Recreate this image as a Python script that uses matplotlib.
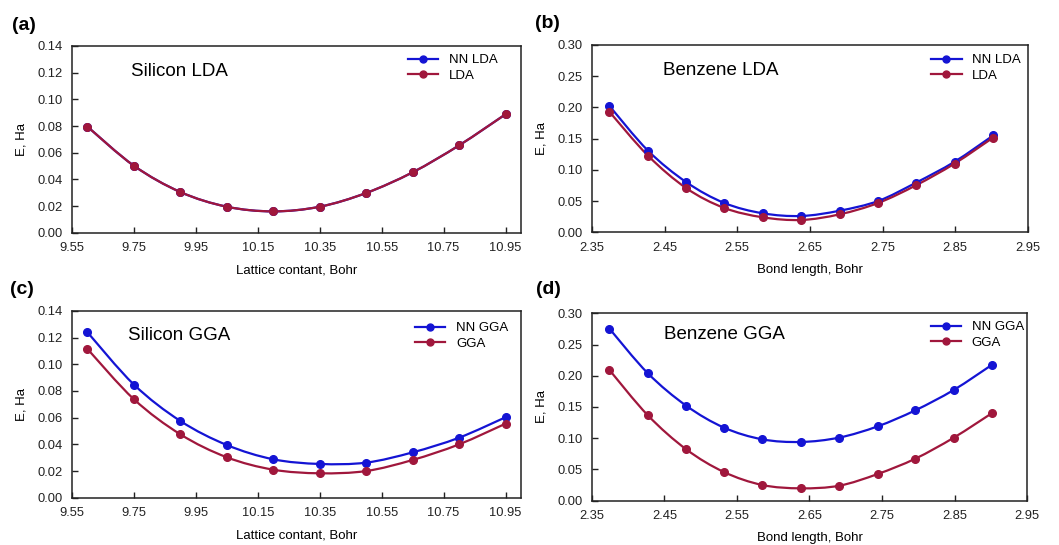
import matplotlib
matplotlib.use('Agg')
import matplotlib.pyplot as plt
from matplotlib.path import Path
from matplotlib.patches import PathPatch
from matplotlib.lines import Line2D

plt.rcParams['font.family'] = ['Liberation Sans', 'DejaVu Sans']

BLUE = '#1414d4'
RED = '#a0173c'

# silicon lattice constant, Bohr
si_x = [9.60, 9.75, 9.90, 10.05, 10.20, 10.35, 10.50, 10.65, 10.80, 10.95]
si_nn_lda = [0.0795, 0.0502, 0.0305, 0.0195, 0.0160, 0.0195, 0.0298, 0.0453, 0.0655, 0.0888]
si_lda = [0.0795, 0.0502, 0.0305, 0.0195, 0.0160, 0.0195, 0.0298, 0.0453, 0.0655, 0.0888]
si_nn_gga = [0.1240, 0.0848, 0.0575, 0.0395, 0.0288, 0.0253, 0.0263, 0.0340, 0.0450, 0.0603]
si_gga = [0.1115, 0.0738, 0.0475, 0.0303, 0.0210, 0.0183, 0.0200, 0.0283, 0.0400, 0.0555]

# benzene bond length, Bohr
bz_x = [2.374, 2.427, 2.480, 2.532, 2.585, 2.638, 2.691, 2.744, 2.796, 2.849, 2.902]
bz_nn_lda = [0.2024, 0.1308, 0.0801, 0.0470, 0.0304, 0.0261, 0.0346, 0.0502, 0.0795, 0.1130, 0.1550]
bz_lda = [0.1930, 0.1228, 0.0705, 0.0390, 0.0240, 0.0197, 0.0288, 0.0470, 0.0753, 0.1100, 0.1516]
bz_nn_gga = [0.2755, 0.2040, 0.1520, 0.1170, 0.0982, 0.0940, 0.1010, 0.1190, 0.1447, 0.1773, 0.2178]
bz_gga = [0.2093, 0.1367, 0.0822, 0.0459, 0.0251, 0.0198, 0.0240, 0.0427, 0.0673, 0.1009, 0.1404]

si_xticks = [9.55, 9.75, 9.95, 10.15, 10.35, 10.55, 10.75, 10.95]
bz_xticks = [2.35, 2.45, 2.55, 2.65, 2.75, 2.85, 2.95]
si_yticks = [0.00, 0.02, 0.04, 0.06, 0.08, 0.10, 0.12, 0.14]
bz_yticks = [0.00, 0.05, 0.10, 0.15, 0.20, 0.25, 0.30]


def smooth_line(ax, x, y, color):
    # excel-style smoothed line (catmull-rom as cubic bezier)
    pts = list(zip(x, y))
    verts = [pts[0]]
    codes = [Path.MOVETO]
    n = len(pts)
    for i in range(n - 1):
        p0 = pts[i - 1] if i > 0 else pts[i]
        p1 = pts[i]
        p2 = pts[i + 1]
        p3 = pts[i + 2] if i + 2 < n else pts[i + 1]
        c1 = (p1[0] + (p2[0] - p0[0]) / 6, p1[1] + (p2[1] - p0[1]) / 6)
        c2 = (p2[0] - (p3[0] - p1[0]) / 6, p2[1] - (p3[1] - p1[1]) / 6)
        verts += [c1, c2, p2]
        codes += [Path.CURVE4] * 3
    ax.add_patch(PathPatch(Path(verts, codes), facecolor='none', edgecolor=color, lw=1.6, zorder=2))
    ax.plot(x, y, 'o', color=color, ms=5.5, zorder=3)


fig = plt.figure(figsize=(10.59, 5.45), dpi=100)

panels = [
    ([0.0680, 0.5730, 0.4240, 0.3426], si_x, si_nn_lda, si_lda, 'NN LDA', 'LDA', 'Silicon LDA',
     si_xticks, (9.55, 11.0), si_yticks, (0, 0.14), 'Lattice contant, Bohr', (0.748, 0.957), (0.131, 0.861)),
    ([0.5590, 0.5738, 0.4117, 0.3437], bz_x, bz_nn_lda, bz_lda, 'NN LDA', 'LDA', 'Benzene LDA',
     bz_xticks, (2.35, 2.95), bz_yticks, (0, 0.30), 'Bond length, Bohr', (0.778, 0.952), (0.162, 0.863)),
    ([0.0680, 0.0868, 0.4240, 0.3426], si_x, si_nn_gga, si_gga, 'NN GGA', 'GGA', 'Silicon GGA',
     si_xticks, (9.55, 11.0), si_yticks, (0, 0.14), 'Lattice contant, Bohr', (0.764, 0.941), (0.125, 0.871)),
    ([0.5590, 0.0813, 0.4108, 0.3439], bz_x, bz_nn_gga, bz_gga, 'NN GGA', 'GGA', 'Benzene GGA',
     bz_xticks, (2.35, 2.95), bz_yticks, (0, 0.30), 'Bond length, Bohr', (0.779, 0.959), (0.166, 0.889)),
]

for rect, x, y_nn, y_ref, lab_nn, lab_ref, title, xt, xl, yt, yl, xlabel, leg_at, txt_at in panels:
    ax = fig.add_axes(rect)
    smooth_line(ax, x, y_nn, BLUE)
    smooth_line(ax, x, y_ref, RED)
    ax.set_xlim(*xl)
    ax.set_ylim(*yl)
    ax.set_xticks(xt)
    ax.set_xticklabels(['%.2f' % v for v in xt])
    ax.set_yticks(yt)
    ax.set_yticklabels(['%.2f' % v for v in yt])
    ax.tick_params(direction='in', length=4, width=1, labelsize=9.3, pad=7, colors='#222222')
    for s in ax.spines.values():
        s.set_linewidth(1.1)
        s.set_color('#222222')
    ax.set_xlabel(xlabel, fontsize=9.5, labelpad=7)
    ax.set_ylabel('E, Ha', fontsize=9.5, labelpad=7)
    ax.text(txt_at[0], txt_at[1], title, transform=ax.transAxes, fontsize=13.5, va='center', ha='left')
    handles = [Line2D([], [], color=BLUE, marker='o', ms=5, lw=1.6),
               Line2D([], [], color=RED, marker='o', ms=5, lw=1.6)]
    ax.legend(handles, [lab_nn, lab_ref], loc='upper left', bbox_to_anchor=leg_at, frameon=False,
              fontsize=9.5, borderpad=0, borderaxespad=0, handlelength=2.3, handletextpad=0.8,
              labelspacing=0.25)

for lab, px, py in [('(a)', 12, 25), ('(b)', 535, 24), ('(c)', 10, 290), ('(d)', 536, 289)]:
    fig.text(px / 1059, 1 - py / 545, lab, fontsize=14, fontweight='bold', va='center', ha='left')

fig.savefig('out.png', dpi=100)
